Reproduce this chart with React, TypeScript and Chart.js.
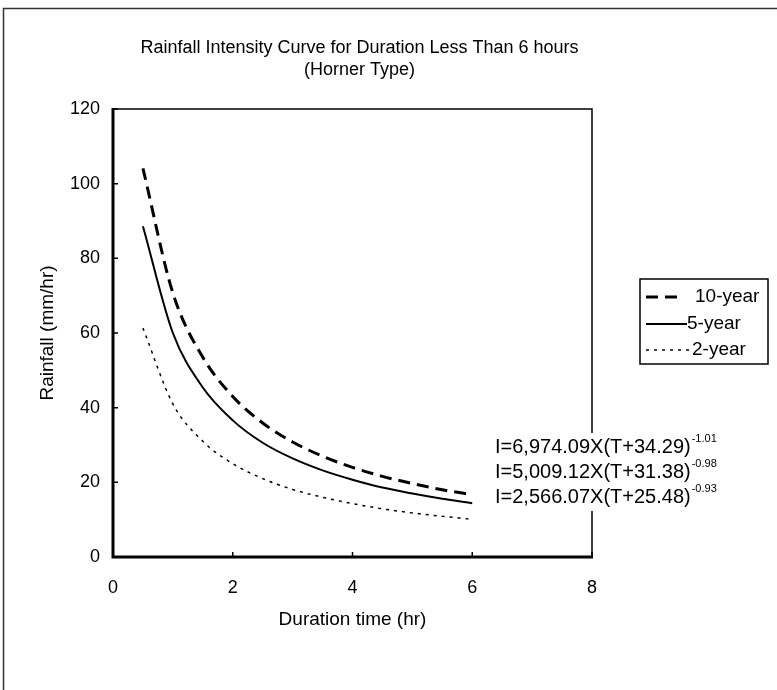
import React, { useEffect, useRef } from "react";
import { Chart, registerables } from "chart.js";

Chart.register(...registerables);

const durations = [0.5, 1, 1.5, 2, 2.5, 3, 3.5, 4, 4.5, 5, 5.5, 6];
const tenYear = [104.1, 70.7, 53.5, 43.0, 35.9, 30.8, 27.0, 24.0, 21.6, 19.7, 18.0, 16.7];
const fiveYear = [88.6, 60.0, 45.4, 36.6, 30.6, 26.4, 23.2, 20.7, 18.6, 17.0, 15.6, 14.4];
const twoYear = [61.3, 41.0, 31.0, 25.0, 21.0, 18.1, 16.0, 14.3, 12.9, 11.8, 10.9, 10.1];

const seriesNames = ["10-year", "5-year", "2-year"];
const titleLines = ["Rainfall Intensity Curve for Duration Less Than 6 hours", "(Horner Type)"];
const xTitle = "Duration time (hr)";
const yTitle = "Rainfall (mm/hr)";
const equations = [
  { base: "I=6,974.09X(T+34.29)", exp: "-1.01" },
  { base: "I=5,009.12X(T+31.38)", exp: "-0.98" },
  { base: "I=2,566.07X(T+25.48)", exp: "-0.93" },
];

const FONT = '"Liberation Sans", Arial, sans-serif';
const dashes = [[12, 7], [], [3, 5]];
const widths = [3, 2, 1.5];

const decor = {
  id: "decor",
  afterDraw(chart: any) {
    const ctx = chart.ctx;
    const a = chart.chartArea;
    const xs = chart.scales.x;
    const ys = chart.scales.y;
    ctx.save();
    // outer frame
    ctx.strokeStyle = "#333";
    ctx.lineWidth = 1.5;
    ctx.beginPath();
    ctx.moveTo(3.5, 690);
    ctx.lineTo(3.5, 8.5);
    ctx.lineTo(777, 8.5);
    ctx.stroke();

    // plot border
    ctx.strokeStyle = "#000";
    ctx.lineWidth = 1.5;
    ctx.beginPath();
    ctx.moveTo(a.left, a.top);
    ctx.lineTo(a.right, a.top);
    ctx.lineTo(a.right, a.bottom);
    ctx.stroke();
    ctx.lineWidth = 3;
    ctx.beginPath();
    ctx.moveTo(a.left, a.top - 1);
    ctx.lineTo(a.left, a.bottom);
    ctx.lineTo(a.right + 1, a.bottom);
    ctx.stroke();

    // inward tick marks
    ctx.lineWidth = 1.5;
    ctx.beginPath();
    ys.ticks.forEach((t: any) => {
      const y = ys.getPixelForValue(t.value);
      ctx.moveTo(a.left, y);
      ctx.lineTo(a.left + 5, y);
    });
    xs.ticks.forEach((t: any) => {
      const x = xs.getPixelForValue(t.value);
      ctx.moveTo(x, a.bottom);
      ctx.lineTo(x, a.bottom - 5);
    });
    ctx.stroke();

    // title
    ctx.fillStyle = "#000";
    ctx.textAlign = "center";
    ctx.textBaseline = "middle";
    ctx.font = `18px ${FONT}`;
    const tc = (a.left + a.right) / 2 + 7;
    ctx.fillText(titleLines[0], tc, 48);
    ctx.fillText(titleLines[1], tc, 70);

    // axis titles
    ctx.font = `19px ${FONT}`;
    ctx.fillText(xTitle, (a.left + a.right) / 2, 620);
    ctx.save();
    ctx.translate(48, (a.top + a.bottom) / 2);
    ctx.rotate(-Math.PI / 2);
    ctx.fillText(yTitle, 0, 0);
    ctx.restore();

    // equations
    const eqX = 495;
    const eqY = [447, 472, 497];
    ctx.fillStyle = "#fff";
    ctx.fillRect(eqX - 2, eqY[0] - 14, 222, eqY[2] - eqY[0] + 28);
    ctx.fillStyle = "#000";
    ctx.textAlign = "left";
    equations.forEach((e, i) => {
      ctx.font = `20px ${FONT}`;
      ctx.fillText(e.base, eqX, eqY[i]);
      const w = ctx.measureText(e.base).width;
      ctx.font = `11px ${FONT}`;
      ctx.fillText(e.exp, eqX + w + 1, eqY[i] - 8);
    });

    // legend
    const lx = 640, lt = 279, lr = 768, lb = 364;
    ctx.fillStyle = "#fff";
    ctx.fillRect(lx, lt, lr - lx, lb - lt);
    ctx.strokeStyle = "#000";
    ctx.lineWidth = 1.5;
    ctx.strokeRect(lx, lt, lr - lx, lb - lt);
    const rowY = [297, 324, 350];
    const lineEnd = [684, 687, 690];
    const textX = [695, 687, 692];
    ctx.font = `19px ${FONT}`;
    ctx.fillStyle = "#000";
    seriesNames.forEach((n, i) => {
      ctx.setLineDash(dashes[i]);
      ctx.lineWidth = widths[i];
      ctx.beginPath();
      ctx.moveTo(lx + 6, rowY[i]);
      ctx.lineTo(lineEnd[i], rowY[i]);
      ctx.stroke();
      ctx.setLineDash([]);
      ctx.fillText(n, textX[i], rowY[i]);
    });
    ctx.restore();
  },
};

export default function App() {
  const ref = useRef<HTMLCanvasElement>(null);
  useEffect(() => {
    const mk = (vals: number[]) => durations.map((d, i) => ({ x: d, y: vals[i] }));
    const chart = new Chart(ref.current!, {
      type: "line",
      data: {
        datasets: [tenYear, fiveYear, twoYear].map((vals, i) => ({
          label: seriesNames[i],
          data: mk(vals),
          borderColor: "#000",
          borderWidth: widths[i],
          borderDash: dashes[i],
          pointRadius: 0,
          fill: false,
          cubicInterpolationMode: "monotone" as const,
        })),
      },
      options: {
        animation: false,
        responsive: false,
        layout: { padding: { left: 0, top: 109, right: 185, bottom: 73 } },
        plugins: { legend: { display: false }, title: { display: false }, tooltip: { enabled: false } },
        scales: {
          x: {
            type: "linear",
            min: 0,
            max: 8,
            ticks: { stepSize: 2, padding: 20, color: "#000", font: { family: FONT, size: 18 } },
            grid: { display: false, drawTicks: false },
            border: { display: false },
            afterFit: (s: any) => { s.height = 60; },
          },
          y: {
            min: 0,
            max: 120,
            ticks: { stepSize: 20, padding: 13, color: "#000", font: { family: FONT, size: 18 } },
            grid: { display: false, drawTicks: false },
            border: { display: false },
            afterFit: (s: any) => { s.width = 113; },
          },
        },
      },
      plugins: [decor],
    });
    return () => chart.destroy();
  }, []);
  return (
    <div style={{ position: "absolute", left: 0, top: 0, width: 777, height: 690, background: "#fff" }}>
      <canvas ref={ref} width={777} height={690} style={{ width: 777, height: 690 }} />
    </div>
  );
}
